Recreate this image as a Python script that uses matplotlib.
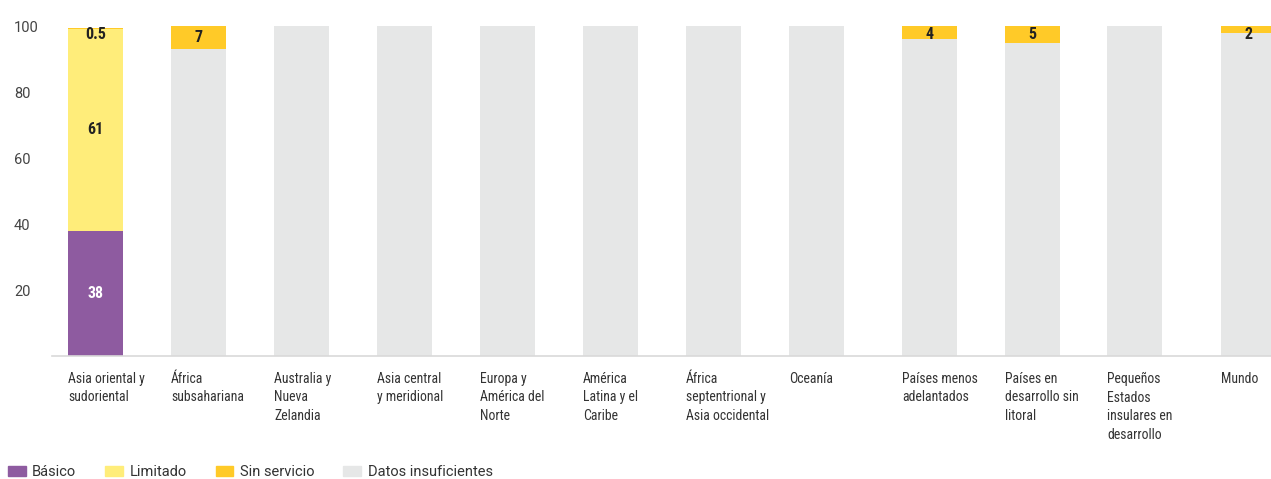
import numpy as np
import matplotlib
matplotlib.use("Agg")
import matplotlib.pyplot as plt
from matplotlib import font_manager
from matplotlib.patches import Patch

# Data
categories = [
    "Asia oriental y\nsudoriental",
    "África\nsubsahariana",
    "Australia y\nNueva\nZelandia",
    "Asia central\ny meridional",
    "Europa y\nAmérica del\nNorte",
    "América\nLatina y el\nCaribe",
    "África\nseptentrional y\nAsia occidental",
    "Oceanía",
    "Países menos\nadelantados",
    "Países en\ndesarrollo sin\nlitoral",
    "Pequeños\nEstados\ninsulares en\ndesarrollo",
    "Mundo",
]
basico = [38, 0, 0, 0, 0, 0, 0, 0, 0, 0, 0, 0]
limitado = [61, 0, 0, 0, 0, 0, 0, 0, 0, 0, 0, 0]
insuficientes = [0, 93, 100, 100, 100, 100, 100, 100, 96, 95, 100, 98]
sin_servicio = [0.5, 7, 0, 0, 0, 0, 0, 0, 4, 5, 0, 2]

# stacking order bottom -> top
stack = [
    ("Básico", basico, "#8e5ba0"),
    ("Limitado", limitado, "#ffed7a"),
    ("Datos insuficientes", insuficientes, "#e6e7e7"),
    ("Sin servicio", sin_servicio, "#ffca28"),
]
legend_order = ["Básico", "Limitado", "Sin servicio", "Datos insuficientes"]

names = {f.name for f in font_manager.fontManager.ttflist}
cond_font = "Roboto Condensed" if "Roboto Condensed" in names else "Archivo Narrow"
base_font = "Roboto"

# extra gaps before the aggregate groups
x = np.array([0, 1, 2, 3, 4, 5, 6, 7, 8.1, 9.1, 10.09, 11.19])
bar_w = 0.534

fig = plt.figure(figsize=(12.71, 4.79), dpi=100)
ax = fig.add_axes([52 / 1271, 123 / 479, 1 - 52 / 1271, 330 / 479])

bottom = np.zeros(len(categories))
for name, vals, col in stack:
    vals = np.array(vals, dtype=float)
    ax.bar(x, vals, bar_w, bottom=bottom, color=col, label=name, linewidth=0)
    if name != "Datos insuficientes":
        for xi, v, b in zip(x, vals, bottom):
            if v > 0:
                y = min(b + v / 2, 97.4)
                ax.text(xi, y, f"{v:g}", ha="center", va="center", fontsize=11.5,
                        fontweight="bold", family=cond_font,
                        color="white" if name == "Básico" else "#222222")
    bottom += vals

ax.set_xlim(-0.422, 11.413)
ax.set_ylim(0, 100)
ax.set_yticks([20, 40, 60, 80, 100])
ax.tick_params(axis="y", length=0, pad=27.4, labelsize=10.5, labelcolor="#444444")
for lab in ax.get_yticklabels():
    lab.set_horizontalalignment("left")
    lab.set_family(base_font)
ax.set_xticks([])
for s in ["top", "right", "left"]:
    ax.spines[s].set_visible(False)
ax.spines["bottom"].set_color("#d9d9d9")
ax.spines["bottom"].set_linewidth(1.2)

# category labels, left aligned under each bar
for xi, cat in zip(x, categories):
    ax.text(xi - bar_w / 2, -4.8, cat, ha="left", va="top", fontsize=9.9,
            color="#333333", family=cond_font, linespacing=1.42)

colmap = {n: c for n, _, c in stack}
handles = [Patch(color=colmap[n], label=n) for n in legend_order]
fig.legend(handles=handles, loc="lower left", bbox_to_anchor=(-0.004, -0.028), ncol=4,
           frameon=False, prop={"family": base_font, "size": 10.5},
           handlelength=1.2, handleheight=0.65, handletextpad=0.45,
           columnspacing=2.0, labelcolor="#333333")

fig.savefig("out.png", dpi=100)
